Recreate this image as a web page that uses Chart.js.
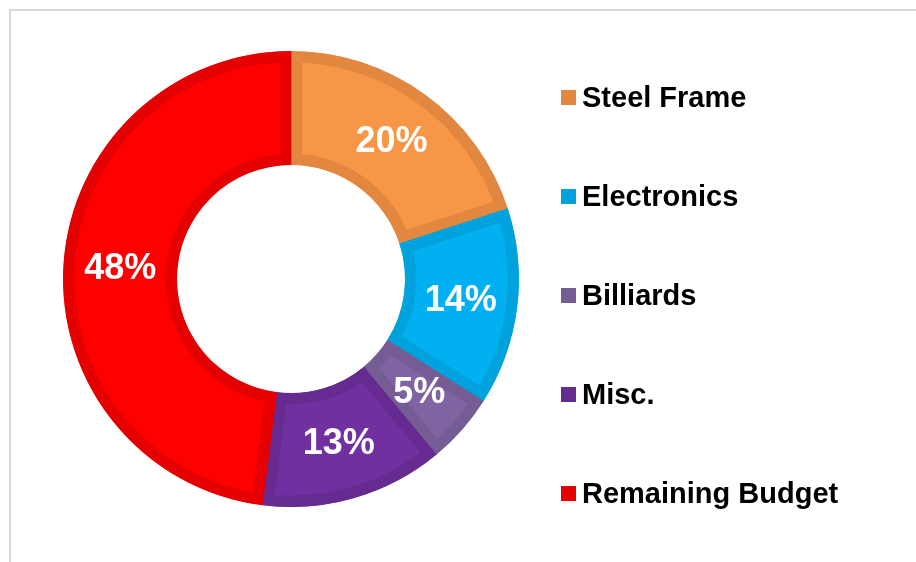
<!DOCTYPE html>
<html>
<head>
<meta charset="utf-8">
<script src="https://cdn.jsdelivr.net/npm/chart.js@4"></script>
<style>
  html, body { margin: 0; padding: 0; background: #ffffff; }
  #wrap { position: relative; width: 916px; height: 562px; overflow: hidden; }
  #frame { position: absolute; left: 9px; top: 9px; width: 1000px; height: 1000px;
           border-left: 2px solid #d9d9d9; border-top: 2px solid #d9d9d9; box-sizing: border-box; }
  canvas { position: absolute; left: 0; top: 0; }
</style>
</head>
<body>
<div id="wrap">
  <div id="frame"></div>
  <canvas id="c" width="916" height="562"></canvas>
</div>
<script>
const categories = ["Steel Frame", "Electronics", "Billiards", "Misc.", "Remaining Budget"];
const values = [20, 14, 5, 13, 48];
const fillColors = ["#F79646", "#00B0F0", "#8064A2", "#7030A0", "#FF0000"];
const edgeColors = ["#E2873F", "#00A2DD", "#765C94", "#652B90", "#E40000"];

const FONT = "'Liberation Sans', Arial, sans-serif";

const dataLabels = {
  id: 'dataLabels',
  afterDatasetsDraw(chart) {
    const ctx = chart.ctx;
    const meta = chart.getDatasetMeta(0);
    const ds = chart.data.datasets[0];
    ctx.save();
    ctx.fillStyle = '#ffffff';
    ctx.font = "bold 36px " + FONT;
    ctx.textAlign = 'center';
    ctx.textBaseline = 'middle';
    meta.data.forEach((arc, i) => {
      const p = arc.tooltipPosition();
      ctx.fillText(ds.data[i] + '%', p.x, p.y + 1);
    });
    ctx.restore();
  }
};

const sideLegend = {
  id: 'sideLegend',
  afterDraw(chart) {
    const ctx = chart.ctx;
    const labels = chart.data.labels;
    const colors = chart.data.datasets[0].borderColor;
    const boxX = 561, box = 15, textX = 582, y0 = 97.5, step = 99.1;
    ctx.save();
    ctx.font = "bold 29px " + FONT;
    ctx.textAlign = 'left';
    ctx.textBaseline = 'middle';
    labels.forEach((lab, i) => {
      const y = y0 + i * step;
      ctx.fillStyle = colors[i];
      ctx.fillRect(boxX, Math.round(y - box / 2), box, box);
      ctx.fillStyle = '#000000';
      ctx.fillText(lab, textX, y + 1);
    });
    ctx.restore();
  }
};

new Chart(document.getElementById('c'), {
  type: 'doughnut',
  data: {
    labels: categories,
    datasets: [{
      data: values,
      backgroundColor: fillColors,
      borderColor: edgeColors,
      borderWidth: 11,
      borderAlign: 'inner',
      borderJoinStyle: 'miter',
      hoverOffset: 0,
      offset: 0,
      hoverBorderWidth: 11
    }]
  },
  options: {
    responsive: false,
    animation: false,
    events: [],
    cutout: '50%',
    rotation: 0,
    layout: { padding: { left: 63, top: 51, right: 397, bottom: 55 } },
    plugins: {
      legend: { display: false },
      tooltip: { enabled: false },
      title: { display: false }
    }
  },
  plugins: [dataLabels, sideLegend]
});
</script>
</body>
</html>
